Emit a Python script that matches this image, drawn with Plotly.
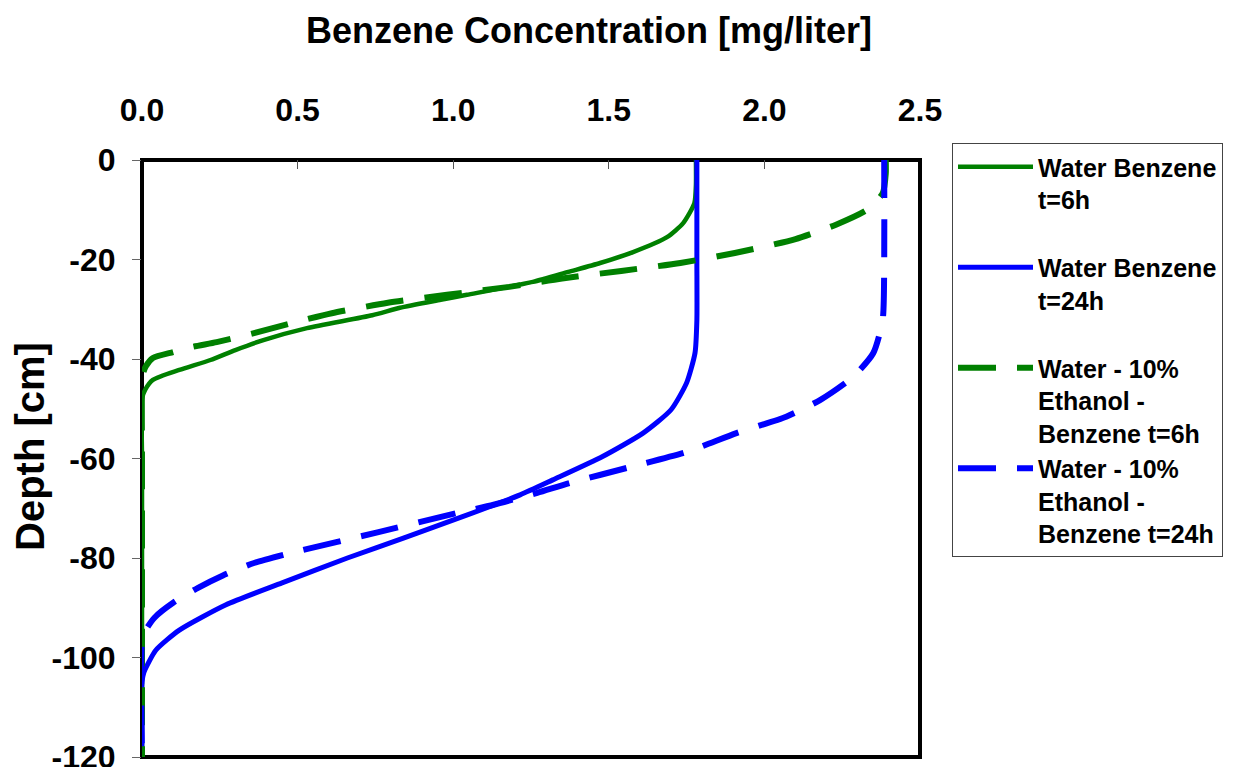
import plotly.graph_objects as go

# Benzene concentration profiles vs depth
depth_water_6h = [0, -5, -8.7, -12.7, -15.5, -18.5, -20.7, -22.5, -24.5, -27.1, -28.1,
                  -29.7, -31.2, -33.8, -36.2, -38.2, -40.2, -42.2, -44.2, -46.2, -48,
                  -60, -80, -100, -120]
conc_water_6h = [1.78, 1.78, 1.775, 1.739, 1.687, 1.578, 1.472, 1.37, 1.256, 1.044, 0.96,
                 0.829, 0.74, 0.53, 0.39, 0.30, 0.22, 0.12, 0.035, 0.01, 0,
                 0, 0, 0, 0]

depth_water_24h = [0, -20, -32.2, -38.8, -44.8, -50.2, -54.9, -59.6, -64.3, -67.3, -71.7,
                   -76, -80, -85, -89.4, -94.5, -98.5, -103, -105, -120]
conc_water_24h = [1.783, 1.783, 1.783, 1.777, 1.75, 1.70, 1.61, 1.48, 1.32, 1.215, 1.03,
                  0.84, 0.66, 0.45, 0.27, 0.12, 0.045, 0.006, 0, 0]

depth_ethanol_6h = [0, -2.7, -6.7, -10, -13, -15.9, -18.7, -20.7, -22.3, -23.8, -25.5,
                    -27.1, -28.7, -30.8, -32.8, -34.8, -36.6, -37.6, -38.6, -39.8, -41.5,
                    -43, -44.5, -60, -80, -100, -120]
conc_ethanol_6h = [2.39, 2.39, 2.38, 2.33, 2.23, 2.10, 1.905, 1.73, 1.54, 1.35, 1.18,
                   0.98, 0.79, 0.61, 0.48, 0.36, 0.24, 0.16, 0.10, 0.035, 0.012,
                   0.003, 0, 0, 0, 0, 0]

depth_ethanol_24h = [0, -20, -32.2, -38.8, -43.6, -48.2, -51.6, -54.9, -58.7, -61.7, -64.9,
                     -66.9, -69.3, -71, -74.8, -78.8, -81, -83.5, -86, -89, -92,
                     -94.5, -97, -120]
conc_ethanol_24h = [2.385, 2.385, 2.38, 2.35, 2.285, 2.18, 2.07, 1.91, 1.75, 1.57, 1.375,
                    1.27, 1.13, 1.01, 0.76, 0.49, 0.36, 0.26, 0.18, 0.10, 0.04,
                    0.012, 0, 0]

series_names = [
    "Water Benzene<br>t=6h<br> ",
    "Water Benzene<br>t=24h<br> ",
    "Water - 10%<br>Ethanol -<br>Benzene t=6h",
    "Water - 10%<br>Ethanol -<br>Benzene t=24h",
]

x_ticks = [0, 0.5, 1.0, 1.5, 2.0, 2.5]
x_tick_labels = ["0.0", "0.5", "1.0", "1.5", "2.0", "2.5"]
y_ticks = [0, -20, -40, -60, -80, -100, -120]
y_tick_labels = ["0", "-20", "-40", "-60", "-80", "-100", "-120"]

GREEN = "#008000"
BLUE = "#0000FF"
FONT = "Liberation Sans, Arial, sans-serif"
DASH = "38px,21px"

fig = go.Figure()
fig.add_trace(go.Scatter(x=conc_water_6h, y=depth_water_6h, mode="lines", name=series_names[0],
                         line=dict(color=GREEN, width=4.5, shape="spline", smoothing=0.6)))
fig.add_trace(go.Scatter(x=conc_water_24h, y=depth_water_24h, mode="lines", name=series_names[1],
                         line=dict(color=BLUE, width=5, shape="spline", smoothing=0.6)))
fig.add_trace(go.Scatter(x=conc_ethanol_6h, y=depth_ethanol_6h, mode="lines", name=series_names[2],
                         line=dict(color=GREEN, width=6, dash=DASH, shape="spline", smoothing=0.6)))
fig.add_trace(go.Scatter(x=conc_ethanol_24h, y=depth_ethanol_24h, mode="lines", name=series_names[3],
                         line=dict(color=BLUE, width=6, dash=DASH, shape="spline", smoothing=0.6)))

L, R, T, B = 142, 317, 160, 10
W, H = 1237, 767
pw, ph = W - L - R, H - T - B

fig.update_layout(
    width=W, height=H,
    margin=dict(l=L, r=R, t=T, b=B, autoexpand=False),
    paper_bgcolor="white", plot_bgcolor="white",
    font=dict(family=FONT, color="black"),
    showlegend=True,
    legend=dict(
        x=(952 - L) / pw, y=1 + (T - 143) / ph, xanchor="left", yanchor="top",
        bgcolor="white", bordercolor="#444", borderwidth=1,
        font=dict(family=FONT, size=25, weight="bold", color="black"),
        itemwidth=75, valign="top", tracegroupgap=0, maxheight=700,
    ),
    xaxis=dict(
        side="top", range=[0, 2.5], tickvals=x_ticks, ticktext=x_tick_labels,
        ticks="inside", ticklen=9, tickcolor="#555", tickwidth=1,
        ticklabelstandoff=32,
        showgrid=False, zeroline=False, showline=False,
        tickfont=dict(family=FONT, size=32, weight="bold", color="black"),
    ),
    yaxis=dict(
        range=[-120, 0], tickvals=y_ticks, ticktext=y_tick_labels,
        ticks="outside", ticklen=9, tickcolor="#666", tickwidth=1,
        ticklabelstandoff=10, ticklabeloverflow="allow",
        showgrid=False, zeroline=False, showline=False,
        tickfont=dict(family=FONT, size=32, weight="bold", color="black"),
    ),
    shapes=[dict(type="rect", xref="paper", yref="paper", x0=0, x1=1, y0=0, y1=1,
                 line=dict(color="black", width=4), layer="below")],
    annotations=[
        dict(text="Benzene Concentration [mg/liter]", xref="paper", yref="paper",
             x=(589 - L) / pw, y=1 + (T - 30) / ph, xanchor="center", yanchor="middle",
             showarrow=False, font=dict(family=FONT, size=36, weight="bold", color="black")),
        dict(text="Depth [cm]", xref="paper", yref="paper", textangle=-90,
             x=(30 - L) / pw, y=(757 - 447) / ph, xanchor="center", yanchor="middle",
             showarrow=False, font=dict(family=FONT, size=40, weight="bold", color="black")),
    ],
)

fig.write_html("out.html")
